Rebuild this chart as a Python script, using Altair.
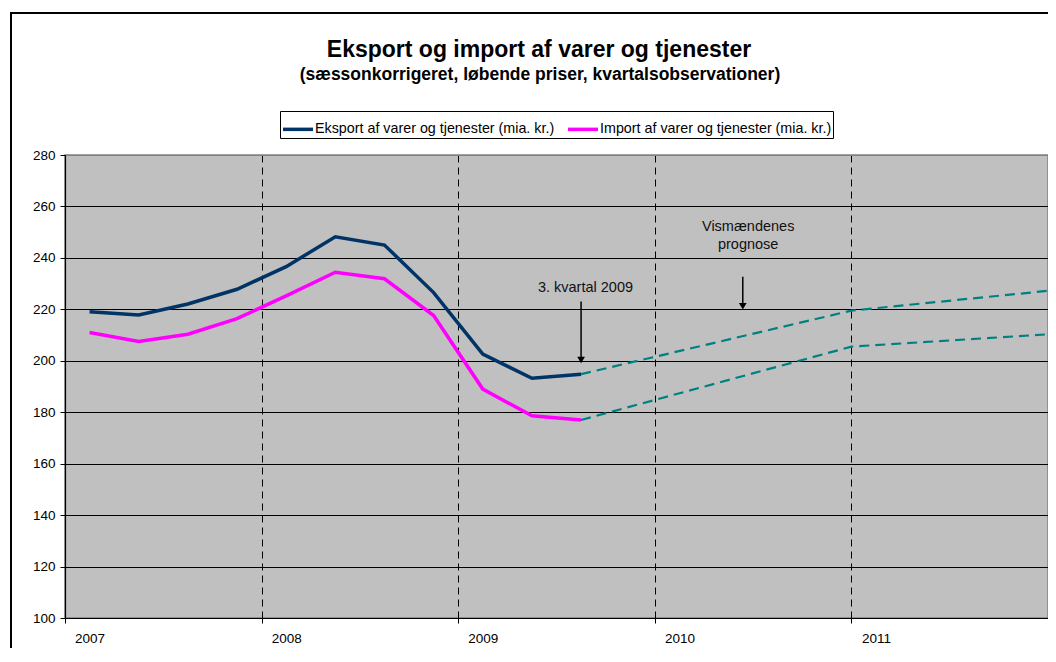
import altair as alt
import pandas as pd

FONT = "Liberation Sans"

# ---------------- data ----------------
quarters = ["2007K1", "2007K2", "2007K3", "2007K4",
            "2008K1", "2008K2", "2008K3", "2008K4",
            "2009K1", "2009K2", "2009K3"]
export_vals = [219.1, 217.8, 222.1, 227.8, 236.6, 248.2, 245.0, 226.5, 202.6, 193.2, 194.8]
import_vals = [211.0, 207.5, 210.3, 216.4, 225.2, 234.4, 231.9, 217.6, 189.0, 178.6, 177.0]

# forecast (positions in quarter units on the time axis)
forecast_pos = [10.5, 16.0, 20.0]
export_forecast = [194.8, 219.5, 227.2]
import_forecast = [177.0, 205.5, 210.3]

years = ["2007", "2008", "2009", "2010", "2011"]
y_ticks = [100, 120, 140, 160, 180, 200, 220, 240, 260, 280]

exp_name = "Eksport af varer og tjenester (mia. kr.)"
imp_name = "Import af varer og tjenester (mia. kr.)"

title_text = "Eksport og import af varer og tjenester"
subtitle_text = "(sæssonkorrigeret, løbende priser, kvartalsobservationer)"
figure_label = "Figur 10"

# annotations
ann_texts = ["3. kvartal 2009", "Vismændenes", "prognose"]
ann_x = [10.59, 13.9, 13.9]
ann_y = [228.4, 251.9, 245.2]
arrow_x = [10.5, 13.79]
arrow_top = [223.0, 232.7]
arrow_end = [201.0, 222.0]
arrow_head = [200.3, 221.2]

# ---------------- tables ----------------
rows = []
for i, q in enumerate(quarters):
    rows.append({"q": q, "x": i + 0.5, "y": export_vals[i], "series": exp_name})
    rows.append({"q": q, "x": i + 0.5, "y": import_vals[i], "series": imp_name})
actual = pd.DataFrame(rows)

frows = []
for p, e, m in zip(forecast_pos, export_forecast, import_forecast):
    frows.append({"x": p, "y": e, "series": "eksport"})
    frows.append({"x": p, "y": m, "series": "import"})
forecast = pd.DataFrame(frows)

ann = pd.DataFrame({"x": ann_x, "y": ann_y, "label": ann_texts})
arrows = pd.DataFrame({"x": arrow_x, "y": arrow_top, "y2": arrow_end, "yh": arrow_head})
one = pd.DataFrame({"a": [0]})

label_expr = "[" + ",".join("'" + y + "'" for y in years) + "][datum.value / 4] || ''"

x_axis = alt.Axis(
    values=[0, 4, 8, 12, 16, 20], labelExpr=label_expr, labelOffset=24.6,
    labelFlush=False, labelOverlap=False, labelBound=False,
    labelFont=FONT, labelFontSize=13.5, labelColor="black", labelPadding=8,
    tickSize=5, tickColor="black", domainColor="black", domainWidth=1.2,
    grid=True, gridColor="black", gridDash=[7, 5], gridWidth=1,
    gridOpacity={"condition": {"test": "datum.value == 0 || datum.value == 20", "value": 0}, "value": 1},
    title=None,
)
y_axis = alt.Axis(
    values=y_ticks, labelFont=FONT, labelFontSize=13.5, labelColor="black",
    labelPadding=5, tickSize=5, tickColor="black", domainColor="black", domainWidth=1.2,
    grid=True, gridWidth=1,
    gridColor={"condition": {"test": "datum.value == 280", "value": "#808080"}, "value": "black"},
    title=None,
)

xs = alt.Scale(domain=[0, 20], nice=False, zero=False)
ys = alt.Scale(domain=[100, 280], nice=False, zero=False)

X = alt.X("x:Q", scale=xs, axis=x_axis)
Y = alt.Y("y:Q", scale=ys, axis=y_axis)

lines = alt.Chart(actual).mark_line(strokeWidth=3.5, strokeJoin="miter").encode(
    x=X, y=Y,
    color=alt.Color(
        "series:N",
        scale=alt.Scale(domain=[exp_name, imp_name], range=["#003366", "#FF00FF"]),
        legend=alt.Legend(
            orient="none", legendX=215, legendY=-44, direction="horizontal",
            title=None, symbolType="stroke", symbolSize=900, symbolStrokeWidth=3.5,
            labelFont=FONT, labelFontSize=14.3, labelColor="black", labelLimit=500,
            labelOffset=0, columnPadding=6, strokeColor="black", fillColor="white",
            padding=1, cornerRadius=0, rowPadding=0,
        ),
    ),
    order="x:Q",
)

fc = alt.Chart(forecast).mark_line(strokeWidth=2.2, strokeDash=[10, 6], color="#008080").encode(
    x=X, y=Y, detail="series:N", order="x:Q"
)

shafts = alt.Chart(arrows).mark_rule(color="black", strokeWidth=1.5).encode(
    x=X, y=Y, y2="y2:Q"
)
heads = alt.Chart(arrows).mark_point(shape="triangle-down", filled=True, color="black",
                                     size=60, opacity=1).encode(
    x=X, y=alt.Y("yh:Q", scale=ys, axis=y_axis)
)
ann_text = alt.Chart(ann).mark_text(font=FONT, fontSize=14.5, color="#111111",
                                    align="center", baseline="middle").encode(
    x=X, y=Y, text="label:N"
)

title_mark = alt.Chart(one).mark_text(
    text=title_text, font=FONT, fontSize=23, fontWeight="bold", color="black",
    align="center", baseline="alphabetic"
).encode(x=alt.value(474), y=alt.value(-98))
subtitle_mark = alt.Chart(one).mark_text(
    text=subtitle_text, font=FONT, fontSize=17.5, fontWeight="bold", color="black",
    align="center", baseline="alphabetic"
).encode(x=alt.value(475), y=alt.value(-75))
fig_mark = alt.Chart(one).mark_text(
    text=figure_label, font=FONT, fontSize=22, fontWeight="bold", color="black",
    align="left", baseline="alphabetic"
).encode(x=alt.value(-54), y=alt.value(-152))
frame = alt.Chart(one).mark_rect(fillOpacity=0, stroke="black", strokeWidth=2).encode(
    x=alt.value(-54), x2=alt.value(1000), y=alt.value(-142), y2=alt.value(560)
)

chart = alt.layer(
    lines, fc, shafts, heads, ann_text, title_mark, subtitle_mark, fig_mark, frame
).properties(
    width=983, height=463,
    padding={"left": 57, "top": 147, "right": 0, "bottom": 30},
    autosize="none",
).configure_view(
    fill="#C0C0C0", stroke="#808080", strokeWidth=1.5
)

chart.save("out.html", embed_options={"renderer": "svg", "actions": False})
